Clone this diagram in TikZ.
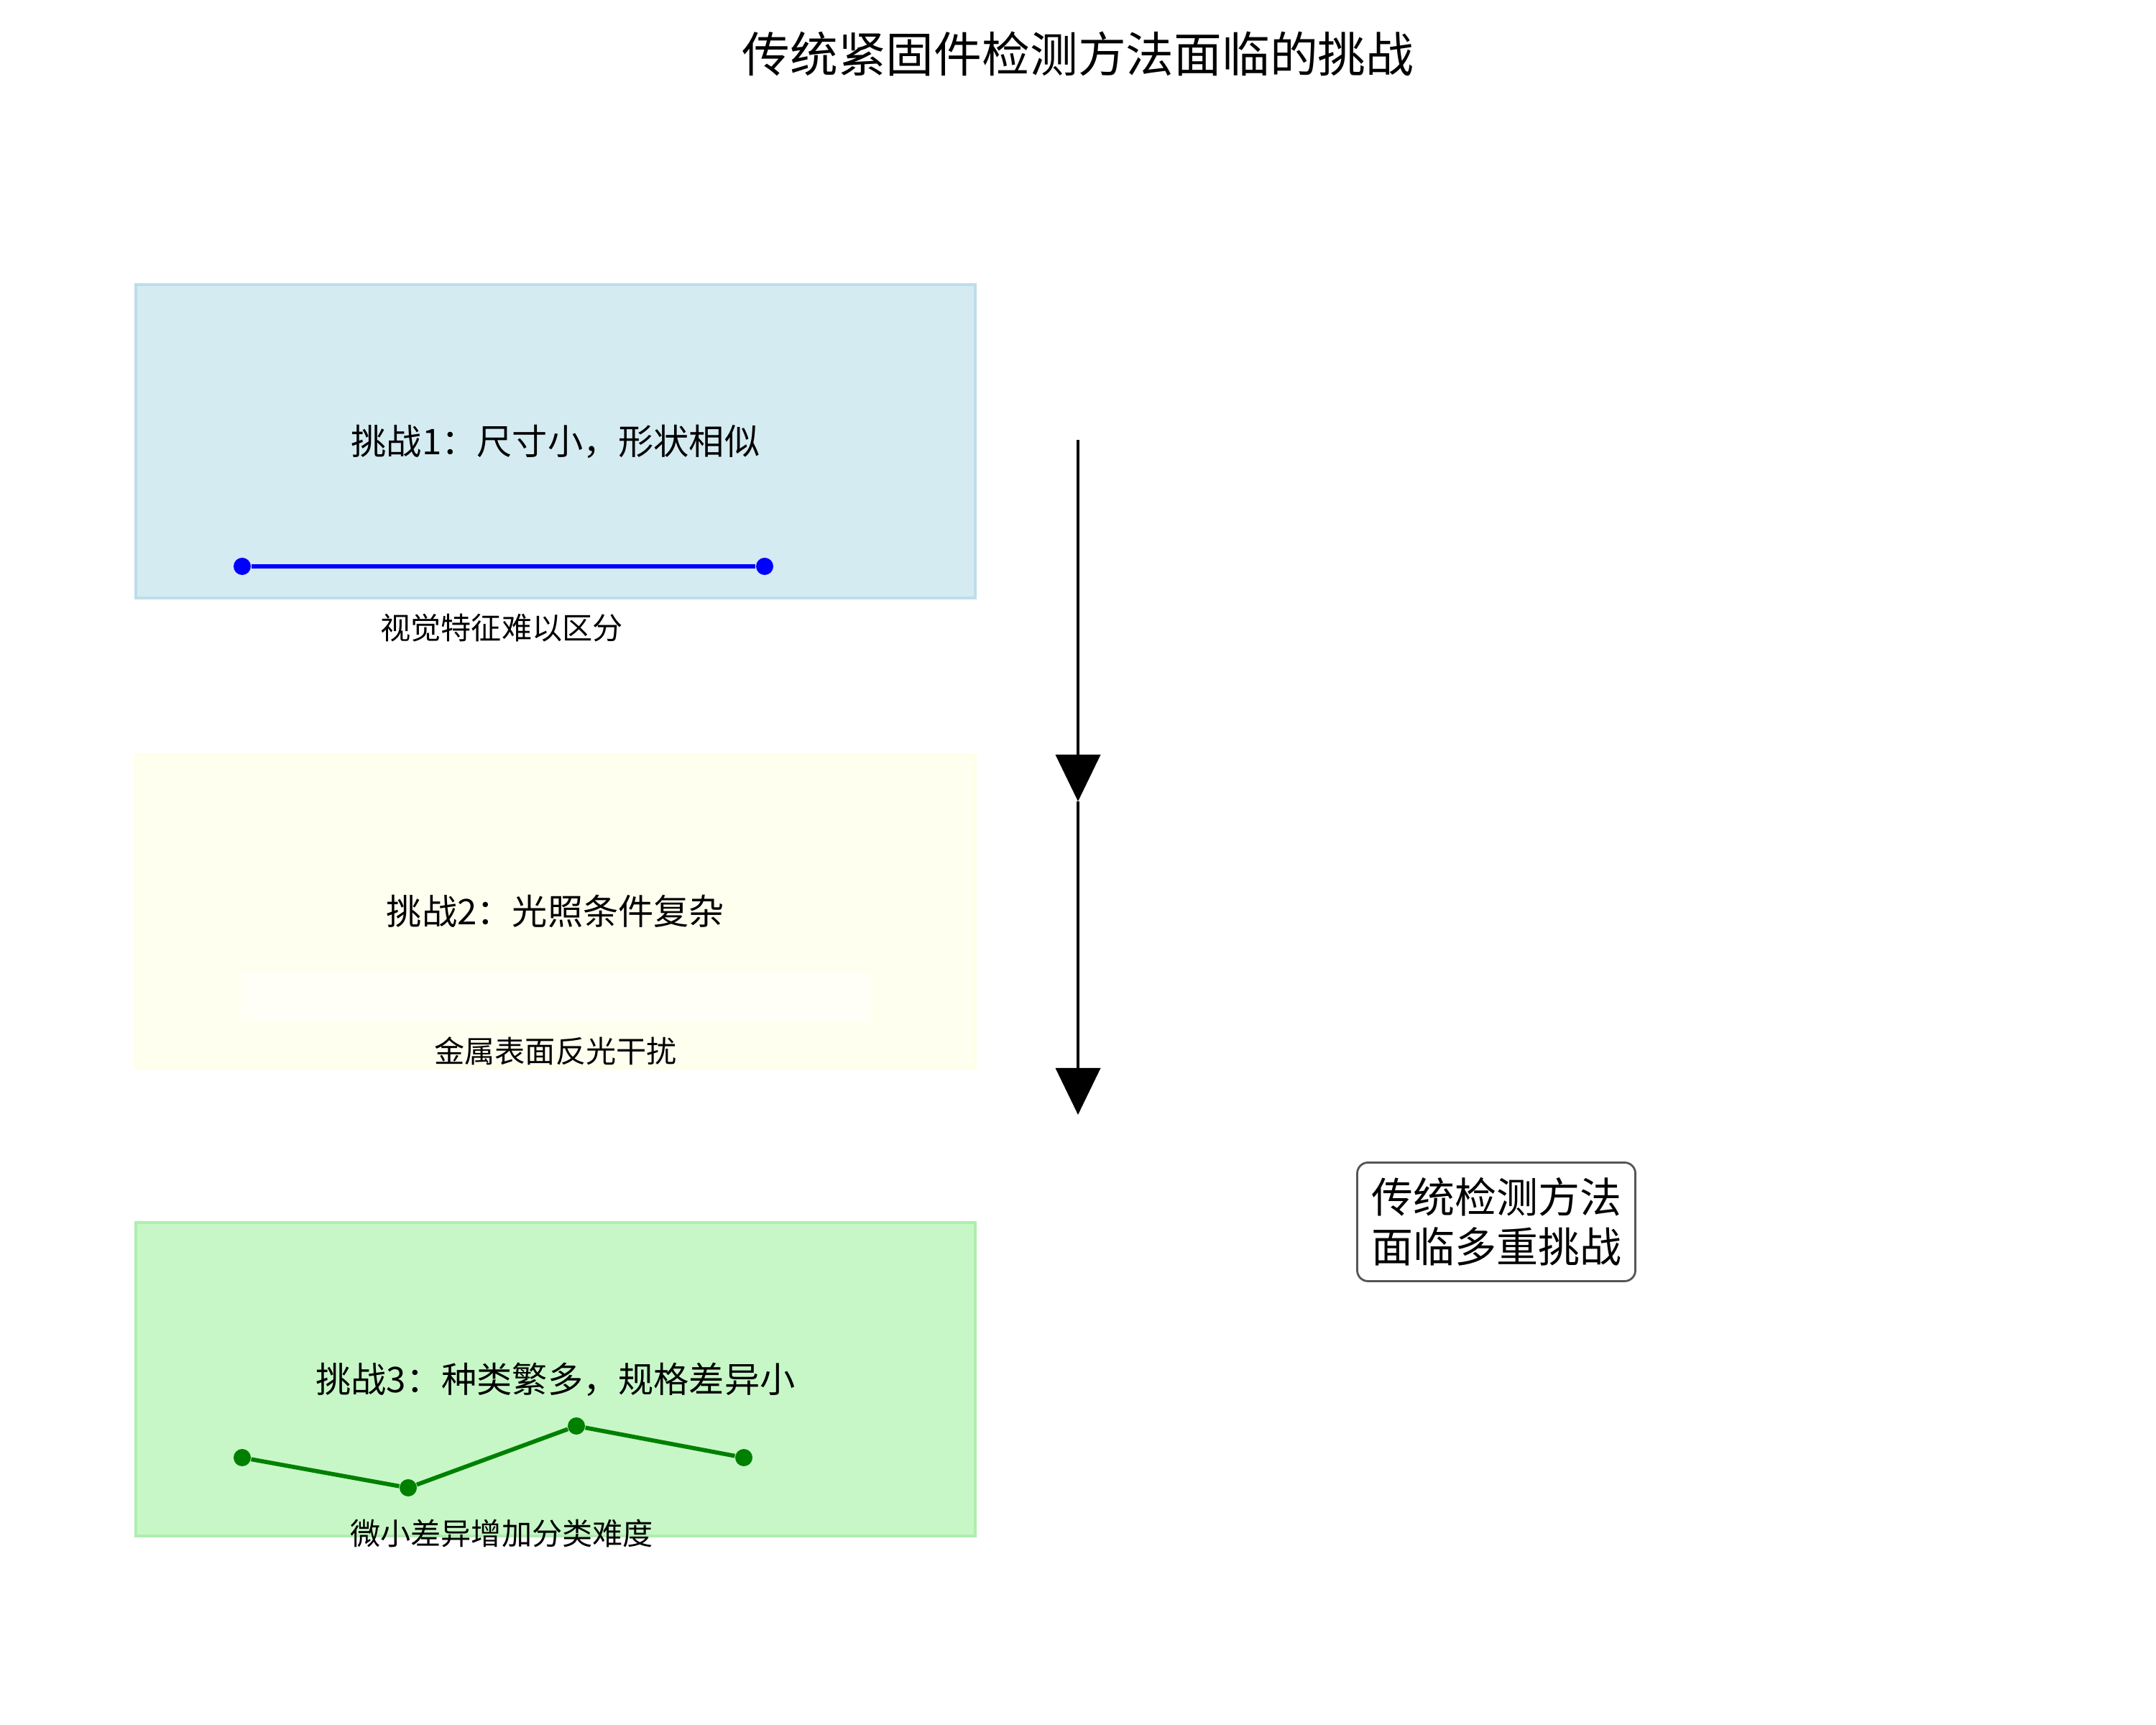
\documentclass[tikz,border=0pt]{standalone}
\usepackage{fontspec}
\newfontfamily\cjk{Noto Sans CJK SC}
\usetikzlibrary{positioning, arrows.meta, calc}
\definecolor{skyFill}{HTML}{D5EBF2}
\definecolor{skyLine}{HTML}{BEDDEA}
\definecolor{creamFill}{HTML}{FFFFF0}
\definecolor{creamLine}{HTML}{FFFFE8}
\definecolor{mintFill}{HTML}{C7F7C7}
\definecolor{mintLine}{HTML}{AEEEAE}
\definecolor{glare}{HTML}{FFFFF8}
\definecolor{frameGray}{HTML}{555555}
\definecolor{lineGreen}{HTML}{008000}

\begin{document}
\begin{tikzpicture}[every node/.style={font=\cjk},
  panel/.style={minimum width=11.68cm, minimum height=4.36cm, line width=0.9pt,
    font=\cjk\fontsize{14}{17}\selectfont},
  note/.style={font=\cjk\fontsize{12}{14}\selectfont},
  bdot/.style={circle, fill=blue, inner sep=0pt, minimum size=0.24cm},
  gdot/.style={circle, fill=lineGreen, inner sep=0pt, minimum size=0.24cm},
  flow/.style={-{Triangle[width=0.62cm, length=0.65cm]}, line width=1.15pt, black}]
  \useasboundingbox (0,0) rectangle (30,24);

  % title
  \node[font=\cjk\fontsize{19}{23}\selectfont] (t) at (15,23.25) {传统紧固件检测方法面临的挑战};

  % challenge 1
  \node[panel, fill=skyFill, draw=skyLine] (c1) at (7.73,17.86) {挑战1：尺寸小，形状相似};
  \node[bdot] (b1) at (3.37,16.12) {};
  \node[bdot] (b2) at (10.64,16.12) {};
  \draw[blue, line width=1.65pt] (b1) -- (b2);
  \node[note] (n1) at (6.98,15.26) {视觉特征难以区分};

  % challenge 2
  \node[panel, fill=creamFill, draw=creamLine] (c2) at (7.73,11.32) {挑战2：光照条件复杂};
  \node[fill=glare, minimum width=8.76cm, minimum height=0.68cm, inner sep=0pt] (w2) at (7.73,10.13) {};
  \node[note] (n2) at (7.73,9.38) {金属表面反光干扰};

  % challenge 3
  \node[panel, fill=mintFill, draw=mintLine] (c3) at (7.73,4.81) {挑战3：种类繁多，规格差异小};
  \node[gdot] (g1) at (3.37,3.72) {};
  \node[gdot] (g2) at (5.68,3.30) {};
  \node[gdot] (g3) at (8.02,4.16) {};
  \node[gdot] (g4) at (10.35,3.72) {};
  \draw[lineGreen, line width=1.65pt] (g1) -- (g2) -- (g3) -- (g4);
  \node[note] (n3) at (6.98,2.67) {微小差异增加分类难度};

  % arrows
  \coordinate (a0) at (15,17.88);
  \coordinate (a1) at (15,12.85);
  \coordinate (a2) at (15,8.49);
  \draw[flow] (a0) -- (a1);
  \draw[flow] (a1) -- (a2);

  % summary
  \node[draw=frameGray, line width=0.8pt, rounded corners=0.15cm, fill=white,
        minimum width=3.87cm, minimum height=1.65cm, align=center,
        font=\cjk\fontsize{16.5}{19.6}\selectfont] (s) at (20.82,7.0) {传统检测方法\\面临多重挑战};
\end{tikzpicture}
\end{document}
